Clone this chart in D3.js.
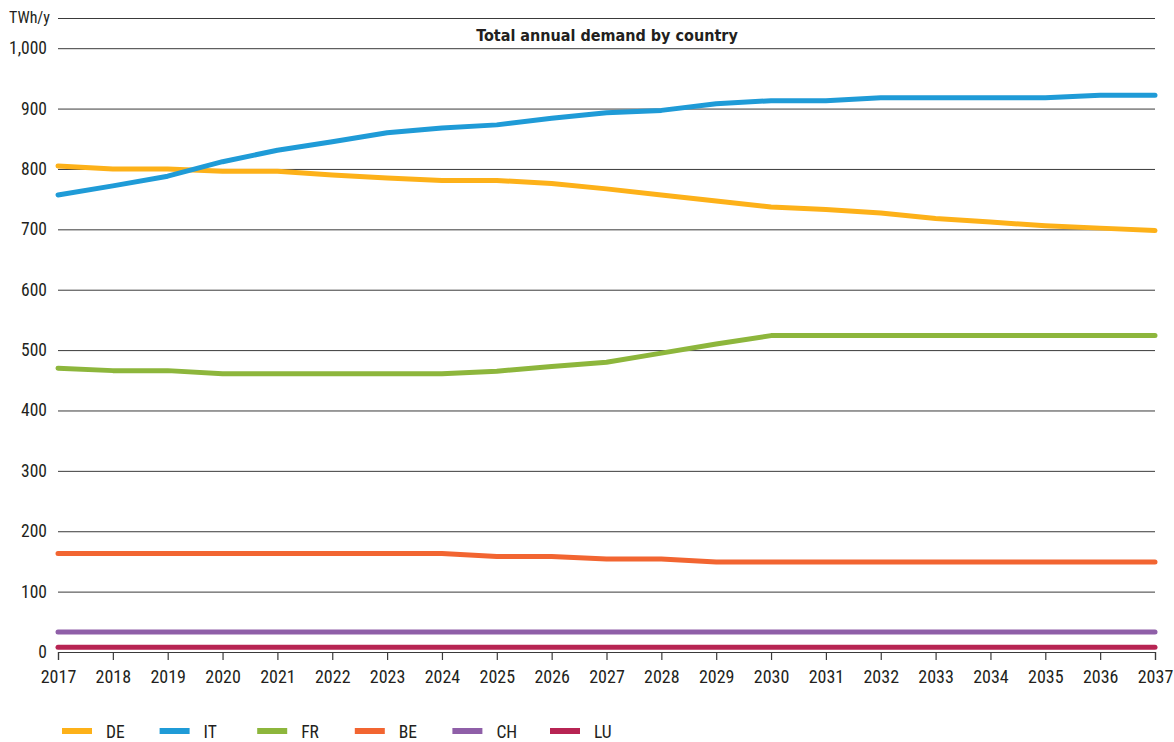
<!DOCTYPE html>
<html><head><meta charset="utf-8">
<script src="https://cdn.jsdelivr.net/npm/d3@7"></script>
<style>
body{margin:0;background:#fff;}
text{font-family:"Liberation Sans Narrow","Roboto Condensed","DejaVu Sans Condensed","Liberation Sans",sans-serif;font-stretch:condensed;fill:#231f20;}
</style></head><body>
<svg id="chart" width="1174" height="742"></svg>
<script>
const years = d3.range(2017, 2038);
const yTicks = [0,100,200,300,400,500,600,700,800,900,1000];
const DE = [805,800,800,796,796,790,785,781,781,776,767,757,747,737,733,727,718,712,706,702,698];
const IT = [757,772,788,812,831,845,860,868,873,884,893,897,908,913,913,918,918,918,918,922,922];
const FR = [470,466,466,461,461,461,461,461,465,473,480,495,510,524,524,524,524,524,524,524,524];
const BE = [163,163,163,163,163,163,163,163,158,158,154,154,149,149,149,149,149,149,149,149,149];
const CH = [33,33,33,33,33,33,33,33,33,33,33,33,33,33,33,33,33,33,33,33,33];
const LU = [8,8,8,8,8,8,8,8,8,8,8,8,8,8,8,8,8,8,8,8,8];
const seriesNames = ["DE","IT","FR","BE","CH","LU"];
const seriesValues = [DE,IT,FR,BE,CH,LU];
const colors = ["#FDB119","#1F9BD7","#8DB63C","#F26531","#8F5FA8","#B72453"];

const svg = d3.select("#chart");
const x = d3.scaleLinear().domain([2017,2037]).range([58,1155]);
const y = d3.scaleLinear().domain([0,1050]).range([652,18]);

// gridlines
const gridVals = yTicks.filter(v=>v>0).concat([1050]);
svg.append("g").selectAll("line").data(gridVals).join("line")
  .attr("x1",x(2017)).attr("x2",x(2037))
  .attr("y1",d=>y(d)+0.5).attr("y2",d=>y(d)+0.5)
  .attr("stroke","#3a3a3a").attr("stroke-width",1);

// y labels
svg.append("g").selectAll("text").data(yTicks).join("text")
  .attr("x",47).attr("y",d=>y(d)+6)
  .attr("text-anchor","end").attr("font-size",17.5)
  .text(d=>d3.format(",")(d));
svg.append("text").attr("x",9).attr("y",y(1050)+5).attr("font-size",16).text("TWh/y");

// title
svg.append("text").attr("x",607).attr("y",41).attr("text-anchor","middle")
  .attr("font-size",16).attr("font-weight","bold")
  .style("font-family","'DejaVu Sans Condensed','DejaVu Sans',sans-serif")
  .text("Total annual demand by country");

// lines
const line = d3.line().x((d,i)=>x(years[i])).y(d=>y(d));
svg.append("g").selectAll("path").data(seriesValues).join("path")
  .attr("d",line).attr("fill","none")
  .attr("stroke",(d,i)=>colors[i]).attr("stroke-width",5)
  .attr("stroke-linecap","round").attr("stroke-linejoin","round");

// x axis
const xAxis = d3.axisBottom(x).tickValues(years).tickFormat(d3.format("d")).tickSize(8).tickPadding(10);
const gx = svg.append("g").attr("transform",`translate(0,${y(0)})`).call(xAxis);
gx.attr("font-family",null).attr("font-size",null);
gx.select(".domain").attr("stroke","#3a3a3a").attr("stroke-width",1.2);
gx.selectAll(".tick line").attr("stroke","#3a3a3a").attr("stroke-width",1.2);
gx.selectAll(".tick text").attr("font-size",18).style("fill","#231f20");

// legend
const lg = svg.append("g").selectAll("g").data(seriesNames).join("g")
  .attr("transform",(d,i)=>`translate(${62 + i*97.6},731)`);
lg.append("rect").attr("x",0).attr("y",-3).attr("width",30).attr("height",6)
  .attr("fill",(d,i)=>colors[i]);
lg.append("text").attr("x",44).attr("y",7).attr("font-size",17.5).text(d=>d);
</script>
</body></html>
